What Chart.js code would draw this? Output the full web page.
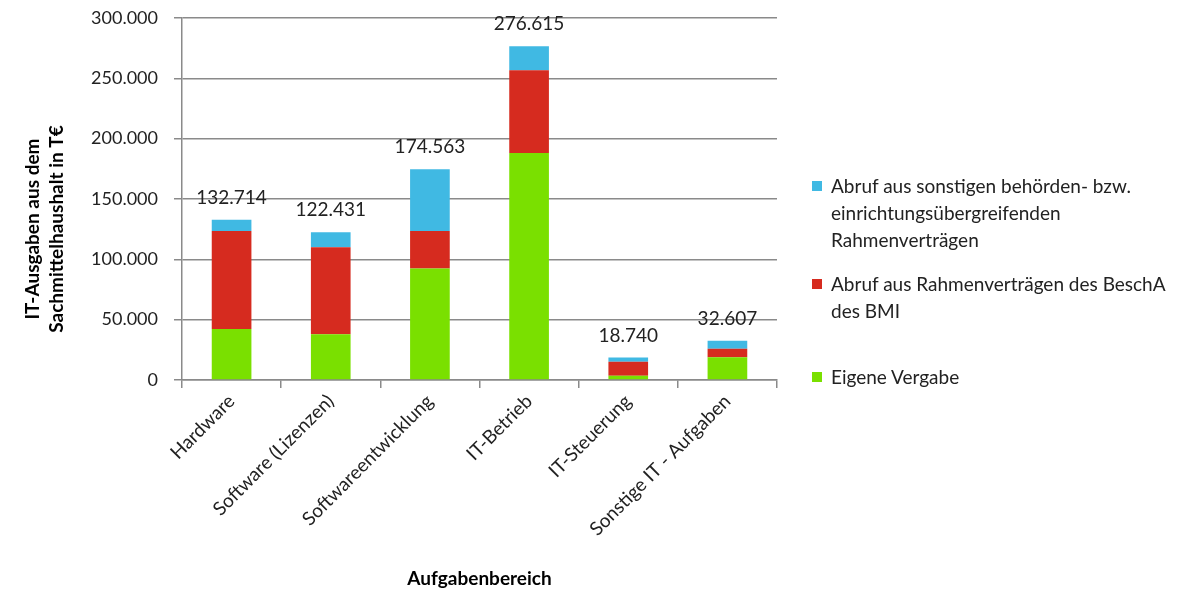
<!DOCTYPE html>
<html lang="de">
<head>
  <meta charset="UTF-8">
  <title>IT-Ausgaben nach Aufgabenbereich</title>
  <script src="https://cdn.jsdelivr.net/npm/chart.js"></script>
  <style>
    * { margin: 0; padding: 0; box-sizing: border-box; }
    body { background: #fff; font-family: Lato, "Open Sans", sans-serif; }
    .wrap { position: relative; width: 1194px; height: 590px; }
    .legend {
      position: absolute;
      left: 812px;
      top: 172px;
      color: #222;
      font-size: 19px;
      line-height: 27px;
    }
    .legend-item { position: relative; padding-left: 19px; white-space: nowrap; }
    .legend-item:nth-child(2) { margin-top: 17px; }
    .legend-item:nth-child(3) { margin-top: 39px; }
    .legend-item span.box {
      position: absolute; left: 0; top: 9px; width: 10px; height: 10px;
    }
  </style>
</head>
<body>
  <div class="wrap">
    <canvas id="chart"></canvas>
    <div class="legend" id="legend"></div>
  </div>

  <script>
    const categories = ['Hardware', 'Software (Lizenzen)', 'Softwareentwicklung', 'IT-Betrieb', 'IT-Steuerung', 'Sonstige IT - Aufgaben'];

    // values in T€, bottom to top
    const eigeneVergabe = [42300, 37900, 92500, 188100, 3600, 18800];
    const abrufBeschA   = [81200, 72100, 31000, 68500, 11600, 7200];
    const abrufSonstige = [9214, 12431, 51063, 20015, 3540, 6607];

    const seriesNames = [
      ['Eigene Vergabe'],
      ['Abruf aus Rahmenverträgen des BeschA', 'des BMI'],
      ['Abruf aus sonstigen behörden- bzw.', 'einrichtungsübergreifenden', 'Rahmenverträgen']
    ];
    const seriesColors = ['#7ae000', '#d62b1f', '#40b9e3'];

    const yTicks = [0, 50000, 100000, 150000, 200000, 250000, 300000];
    const yTitle = ['IT-Ausgaben aus dem', 'Sachmittelhaushalt in T€'];

    function fmt(v) {
      return String(Math.round(v)).replace(/\B(?=(\d{3})+(?!\d))/g, '.');
    }

    const totals = categories.map((c, i) => eigeneVergabe[i] + abrufBeschA[i] + abrufSonstige[i]);

    // sums above each stack + y axis title (sits a bit below the middle in the original)
    const extras = {
      id: 'extras',
      afterDatasetsDraw(chart) {
        const ctx = chart.ctx;
        const top = chart.getDatasetMeta(chart.data.datasets.length - 1);
        ctx.save();
        ctx.font = '19px Lato, sans-serif';
        ctx.fillStyle = '#222';
        ctx.textAlign = 'center';
        ctx.textBaseline = 'middle';
        top.data.forEach((bar, i) => {
          ctx.fillText(fmt(totals[i]), bar.x, bar.y - 22);
        });

        const area = chart.chartArea;
        const cy = (area.top + area.bottom) / 2 + 30;
        ctx.font = 'bold 19px Lato, sans-serif';
        ctx.fillStyle = '#000';
        ctx.translate(33, cy);
        ctx.rotate(-Math.PI / 2);
        yTitle.forEach((line, j) => ctx.fillText(line, 0, j * 24));
        ctx.restore();
      }
    };

    const chart = new Chart(document.getElementById('chart'), {
      type: 'bar',
      data: {
        labels: categories,
        datasets: [eigeneVergabe, abrufBeschA, abrufSonstige].map((d, k) => ({
          label: seriesNames[k].join(' '),
          data: d,
          backgroundColor: seriesColors[k],
          barPercentage: 0.4,
          categoryPercentage: 1.0
        }))
      },
      options: {
        responsive: true,
        maintainAspectRatio: false,
        animation: false,
        layout: { padding: { left: 20, right: 417, top: 18, bottom: 0 } },
        plugins: {
          legend: { display: false },
          tooltip: { enabled: false }
        },
        scales: {
          x: {
            stacked: true,
            grid: { offset: true, drawOnChartArea: false, drawTicks: true, tickLength: 8, color: '#8a8a8a', lineWidth: 1.5 },
            border: { color: '#8a8a8a', width: 1.5 },
            ticks: { minRotation: 45, maxRotation: 45, color: '#222', font: { family: 'Lato', size: 19 }, padding: 2 },
            title: { display: true, text: 'Aufgabenbereich', color: '#000', font: { family: 'Lato', size: 19, weight: 'bold' }, padding: { top: 0, bottom: 0 } },
            afterFit(scale) { scale.height = 210; }
          },
          y: {
            stacked: true,
            min: 0,
            max: 300000,
            afterBuildTicks(scale) { scale.ticks = yTicks.map(v => ({ value: v })); },
            grid: { color: '#8a8a8a', lineWidth: 1.5, tickLength: 8 },
            border: { color: '#8a8a8a', width: 1.5 },
            ticks: { color: '#222', font: { family: 'Lato', size: 18 }, padding: 16, callback: v => fmt(v) },
            afterFit(scale) {
              scale.width = 162;
              scale.paddingTop = 0;
              scale.paddingBottom = 0;
            }
          }
        }
      },
      plugins: [extras]
    });

    // legend, top series first like the original
    const legend = document.getElementById('legend');
    for (let k = seriesNames.length - 1; k >= 0; k--) {
      const item = document.createElement('div');
      item.className = 'legend-item';
      item.innerHTML = '<span class="box" style="background:' + seriesColors[k] + '"></span>' + seriesNames[k].join('<br>');
      legend.appendChild(item);
    }
  </script>
</body>
</html>
